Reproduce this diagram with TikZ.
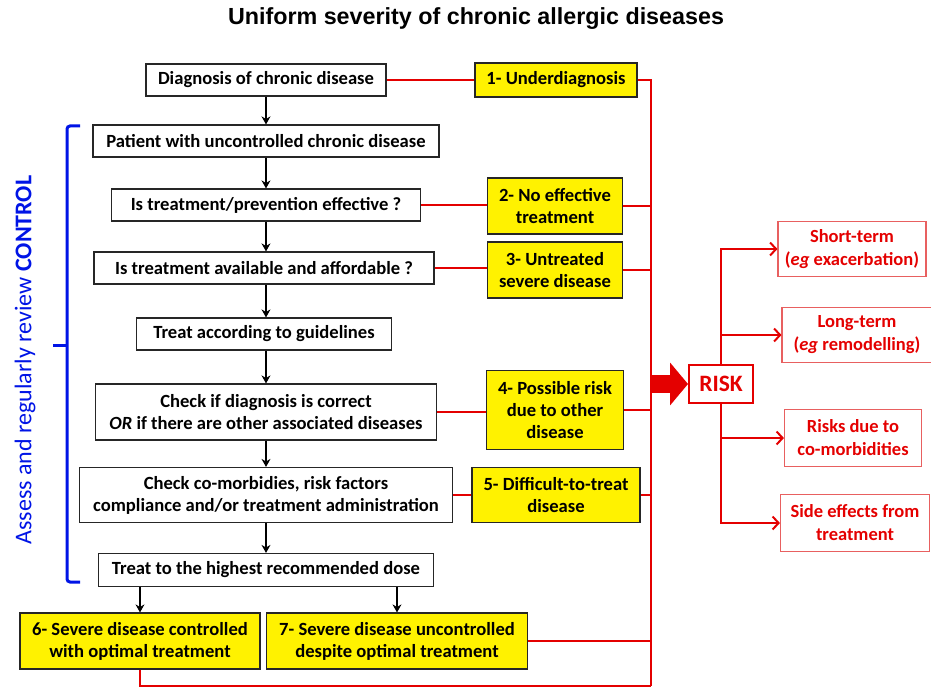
\documentclass[tikz,border=0pt]{standalone}
\usepackage{fontspec}
\setmainfont{Carlito}
\newfontfamily\titlefont{Liberation Sans}
\usetikzlibrary{arrows.meta}
\definecolor{riskred}{RGB}{228,0,0}
\definecolor{outred}{RGB}{232,96,96}
\definecolor{ctrlblue}{RGB}{0,20,230}

\begin{document}
\begin{tikzpicture}[x=1pt, y=-1pt]
\useasboundingbox (0,0) rectangle (931,687);

\tikzset{StepStyle/.style = {
 draw = black!85,
 fill = white,
 line width = 1.2pt,
 align = center,
 inner sep = 1pt,
 minimum height = 32,
 font = \bfseries\fontsize{18.6}{22}\selectfont} }
\tikzset{DangerStyle/.style = {StepStyle, fill = yellow} }
\tikzset{OutcomeStyle/.style = {
 draw = outred,
 line width = 1.1pt,
 text = riskred,
 align = center,
 inner sep = 1pt,
 minimum height = 55,
 font = \bfseries\fontsize{18.5}{23}\selectfont} }

\node[font=\titlefont\bfseries\fontsize{23.3}{26}\selectfont] (Title) at (476,19) {Uniform severity of chronic allergic diseases};

\node[StepStyle, minimum width=240] (S1) at (266,80) {Diagnosis of chronic disease};
\node[StepStyle, minimum width=346] (S2) at (266,141) {Patient with uncontrolled chronic disease};
\node[StepStyle, minimum width=309] (S3) at (266,205) {Is treatment/prevention effective ?};
\node[StepStyle, minimum width=340] (S4) at (264,268) {Is treatment available and affordable ?};
\node[StepStyle, minimum width=255] (S5) at (264,334) {Treat according to guidelines};
\node[StepStyle, minimum width=341, minimum height=56] (S6) at (266,412) {Check if diagnosis is correct\\\textit{OR} if there are other associated diseases};
\node[StepStyle, minimum width=373, minimum height=55] (S7) at (266,495) {Check co-morbidies, risk factors\\compliance and/or treatment administration};
\node[StepStyle, minimum width=335, minimum height=33] (S8) at (266,570) {Treat to the highest recommended dose};

\node[DangerStyle, minimum width=162, minimum height=34] (D1) at (556,80) {1- Underdiagnosis};
\node[DangerStyle, minimum width=135, minimum height=56] (D2) at (555,206) {2- No effective\\treatment};
\node[DangerStyle, minimum width=135, minimum height=56] (D3) at (555,270) {3- Untreated\\severe disease};
\node[DangerStyle, minimum width=137, minimum height=79] (D4) at (555,410) {4- Possible risk\\due to other\\disease};
\node[DangerStyle, minimum width=168, minimum height=55] (D5) at (556,495) {5- Difficult-to-treat\\disease};
\node[DangerStyle, minimum width=240, minimum height=56] (D6) at (140,641) {6- Severe disease controlled\\with optimal treatment};
\node[DangerStyle, minimum width=261, minimum height=56] (D7) at (397,641) {7- Severe disease uncontrolled\\despite optimal treatment};

\node[draw=riskred, line width=2pt, fill=white, text=riskred, minimum width=64, minimum height=38,
 font=\bfseries\fontsize{23.5}{26}\selectfont] (Risk) at (721,384) {RISK};

\node[OutcomeStyle, minimum width=148] (R1) at (852,249) {Short-term\\(\textit{eg} exacerbation)};
\node[OutcomeStyle, minimum width=150] (R2) at (857,335) {Long-term\\(\textit{eg} remodelling)};
\node[OutcomeStyle, minimum width=137, minimum height=57] (R3) at (853,438) {Risks due to\\co-morbidities};
\node[OutcomeStyle, minimum width=149, minimum height=57] (R4) at (855,523) {Side effects from\\treatment};

\node[rotate=90, text=ctrlblue, font=\fontsize{24}{28}\selectfont] (Control) at (25,360) {Assess and regularly review \textbf{CONTROL}};

\coordinate (Trunk_1) at (651,80);
\coordinate (Trunk_2) at (651,686);
\coordinate (Push) at (651,384);

\tikzset{FlowStyle/.style = {line width=1.5pt, -{Stealth[length=8pt, width=9pt]}} }
\tikzset{LinkStyle/.style = {riskred, line width=2pt} }

\draw[FlowStyle] (S1.south) -- (S1.south |- S2.north);
\draw[FlowStyle] (S2.south) -- (S2.south |- S3.north);
\draw[FlowStyle] (S3.south) -- (S3.south |- S4.north);
\draw[FlowStyle] (S4.south -| S3.south) -- (S3.south |- S5.north);
\draw[FlowStyle] (S5.south -| S3.south) -- (S3.south |- S6.north);
\draw[FlowStyle] (S6.south) -- (S6.south |- S7.north);
\draw[FlowStyle] (S7.south) -- (S7.south |- S8.north);
\draw[FlowStyle] (D6.north |- S8.south) -- (D6.north);
\draw[FlowStyle] (D7.north |- S8.south) -- (D7.north);

\draw[LinkStyle] (S1.east) -- (D1.west);
\draw[LinkStyle] (S3.east) -- (S3.east -| D2.west);
\draw[LinkStyle] (S4.east) -- (S4.east -| D3.west);
\draw[LinkStyle] (S6.east) -- (S6.east -| D4.west);
\draw[LinkStyle] (S7.east) -- (S7.east -| D5.west);

\draw[LinkStyle] (D1.east) -| (Trunk_2);
\draw[LinkStyle] (D2.east) -- (D2.east -| Trunk_1);
\draw[LinkStyle] (D3.east) -- (D3.east -| Trunk_1);
\draw[LinkStyle] (D4.east) -- (D4.east -| Trunk_1);
\draw[LinkStyle] (D5.east) -- (D5.east -| Trunk_1);
\draw[LinkStyle] (D7.east) -- (D7.east -| Trunk_1);
\draw[LinkStyle] (D6.south) |- (Trunk_2);

\draw[riskred, line width=18pt, -{Triangle[length=18pt, width=42pt]}] (Push) -- (Risk.west);

\tikzset{BranchStyle/.style = {LinkStyle, -{Straight Barb[length=6pt, width=13pt]}} }
\draw[BranchStyle] (Risk.north) |- (R1);
\draw[BranchStyle] (Risk.north) |- (R2);
\draw[BranchStyle] (Risk.south) |- (R3);
\draw[BranchStyle] (Risk.south) |- (R4);

\draw[ctrlblue, line width=3pt, rounded corners=3pt] (80,126) -- (67,126) -- (67,582) -- (80,582);
\draw[ctrlblue, line width=3pt] (67,345) -- (53,345);

\end{tikzpicture}
\end{document}
